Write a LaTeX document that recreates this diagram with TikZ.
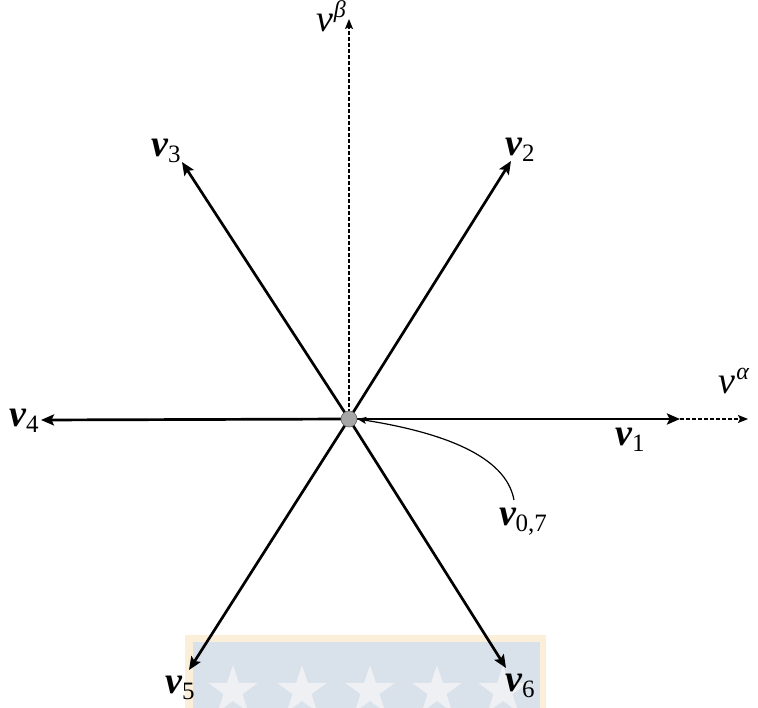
\documentclass[tikz,border=0pt]{standalone}
\usepackage{fontspec}
\setmainfont{Liberation Serif}
\usetikzlibrary{arrows.meta,positioning,shapes.geometric}
\usepackage{xcolor}
\definecolor{wmedge}{HTML}{FCEFD9}
\definecolor{wmfill}{HTML}{D9E1EB}
\definecolor{wmstar}{HTML}{EEF0F3}
\newcommand{\vsub}[1]{\textbf{\textit{v}}\kern-0.5pt\raisebox{-0.35ex}{\fontsize{25}{25}\selectfont #1}}
\newcommand{\vsup}[1]{\textit{v}\kern1pt\raisebox{0.8ex}{\fontsize{24}{24}\selectfont\textit{#1}}}

\begin{document}
\begin{tikzpicture}[
  x=1pt, y=-1pt,
  lbl/.style={font=\fontsize{38}{42}\selectfont, inner sep=0pt},
  arr/.style={-{Stealth[length=13pt,width=11pt,inset=2.5pt]}, line width=2.7pt},
  axis/.style={-{Stealth[length=10pt,width=8pt,inset=2pt]}, line width=1.3pt, dash pattern=on 4pt off 2pt},
  dot/.style={circle, draw=gray!80!black, line width=0.6pt, fill=gray!70, minimum size=16pt, inner sep=0pt},
  wmstarbox/.style={star, star points=5, star point ratio=2.6, fill=wmstar, minimum size=52pt, inner sep=0pt}
]
\useasboundingbox (0,0) rectangle (758,708);

% watermark
\begin{scope}
\clip (0,0) rectangle (758,708);
\fill[wmedge] (185,635) rectangle (546,712);
\fill[wmfill] (193,642) rectangle (540,712);
\foreach \x in {233,302,370,437,503}
  \node[wmstarbox] at (\x,691) {};
\end{scope}

\coordinate (o) at (349,419);
\coordinate (t1) at (680,419);
\coordinate (ta) at (748,419);
\coordinate (tb) at (349,19);
\coordinate (t2) at (511,161);
\coordinate (t3) at (182,162);
\coordinate (t4) at (41,420);
\coordinate (t5) at (189,670);
\coordinate (t6) at (506,668);

\draw[axis] (o) -- (tb);
\draw[axis] (t1) -- (ta);
\draw[arr] (o) -- (t1);
\draw[arr] (o) -- (t2);
\draw[arr] (o) -- (t3);
\draw[arr] (o) -- (t4);
\draw[arr] (o) -- (t5);
\draw[arr] (o) -- (t6);

\node[dot] (zero) at (o) {};

\node[lbl] (v1) at (630,440) {\vsub{1}};
\node[lbl] (v2) at (520,150) {\vsub{2}};
\node[lbl] (v3) at (166,151) {\vsub{3}};
\node[lbl] (v4) at (24,421) {\vsub{4}};
\node[lbl] (v5) at (180,688) {\vsub{5}};
\node[lbl] (v6) at (520,686) {\vsub{6}};
\node[lbl] (v07) at (523,522) {\vsub{0,7}};
\node[lbl] (va) at (734,381) {\vsup{α}};
\node[lbl] (vb) at (331,16) {\vsup{β}};

\draw[-{Stealth[length=9pt,width=7pt,inset=2pt]}, line width=1.2pt]
  (v07.north) ++(-9,-8) .. controls (506,455) and (440,432) .. (zero.east);
\end{tikzpicture}
\end{document}
